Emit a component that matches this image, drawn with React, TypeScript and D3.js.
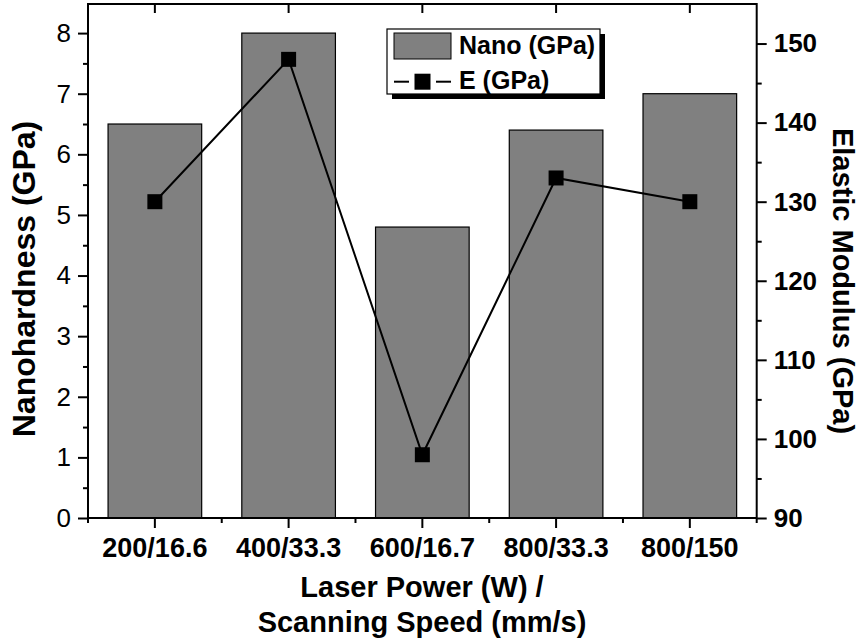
import React, { useEffect, useRef } from 'react';
import * as d3 from 'd3';

// Chart values
const categories = ['200/16.6', '400/33.3', '600/16.7', '800/33.3', '800/150'];
const nanoValues = [6.5, 8.0, 4.8, 6.4, 7.0];
const modulusValues = [130, 148, 98, 133, 130];
const leftTicks = [0, 1, 2, 3, 4, 5, 6, 7, 8];
const leftMinorTicks = [0.5, 1.5, 2.5, 3.5, 4.5, 5.5, 6.5, 7.5];
const rightTicks = [90, 100, 110, 120, 130, 140, 150];
const rightMinorTicks = [95, 105, 115, 125, 135, 145];
const legendLabels = ['Nano (GPa)', 'E (GPa)'];

const FONT = 'Arial, "Liberation Sans", Helvetica, sans-serif';

const App = () => {
  const svgRef = useRef<SVGSVGElement>(null);

  useEffect(() => {
    const svg = d3.select(svgRef.current);
    svg.selectAll('*').remove();

    const left = 88;
    const right = 756.7;
    const top = 4;
    const bottom = 518;

    const x = d3.scaleBand<string>()
      .domain(categories)
      .range([left, right])
      .paddingInner(0.3)
      .paddingOuter(0.15);
    const yL = d3.scaleLinear().domain([0, 8.48]).range([bottom, top]);
    const yR = d3.scaleLinear().domain([90, 155]).range([bottom, top]);

    const center = (c: string) => (x(c) as number) + x.bandwidth() / 2;

    // bars
    svg.append('g')
      .selectAll('rect')
      .data(categories)
      .enter().append('rect')
      .attr('x', d => x(d) as number)
      .attr('y', (d, i) => yL(nanoValues[i]))
      .attr('width', x.bandwidth())
      .attr('height', (d, i) => bottom - yL(nanoValues[i]))
      .attr('fill', '#808080')
      .attr('stroke', '#000')
      .attr('stroke-width', 1.2);

    // line + markers for modulus
    const line = d3.line<number>()
      .x((d, i) => center(categories[i]))
      .y(d => yR(d));
    svg.append('path')
      .datum(modulusValues)
      .attr('d', line)
      .attr('fill', 'none')
      .attr('stroke', '#000')
      .attr('stroke-width', 2);
    const ms = 15;
    svg.append('g')
      .selectAll('rect')
      .data(modulusValues)
      .enter().append('rect')
      .attr('x', (d, i) => center(categories[i]) - ms / 2)
      .attr('y', d => yR(d) - ms / 2)
      .attr('width', ms)
      .attr('height', ms)
      .attr('fill', '#000');

    const styleAxis = (g: any, weight: string, size: number) => {
      g.select('.domain').remove();
      g.selectAll('line').attr('stroke', '#000').attr('stroke-width', 2);
      g.selectAll('text')
        .attr('fill', '#000')
        .style('font-family', FONT)
        .style('font-size', size + 'px')
        .style('font-weight', weight);
    };

    // left axis
    svg.append('g')
      .attr('transform', `translate(${left},0)`)
      .call(d3.axisLeft(yL).tickValues(leftTicks).tickSize(10).tickPadding(7).tickFormat(d3.format('d')))
      .call((g: any) => styleAxis(g, 'normal', 26));
    svg.append('g')
      .attr('transform', `translate(${left},0)`)
      .call(d3.axisLeft(yL).tickValues(leftMinorTicks).tickSize(5).tickFormat(() => ''))
      .call((g: any) => styleAxis(g, 'normal', 26));

    // right axis
    svg.append('g')
      .attr('transform', `translate(${right},0)`)
      .call(d3.axisRight(yR).tickValues(rightTicks).tickSize(10).tickPadding(7))
      .call((g: any) => styleAxis(g, 'bold', 26));
    svg.append('g')
      .attr('transform', `translate(${right},0)`)
      .call(d3.axisRight(yR).tickValues(rightMinorTicks).tickSize(5).tickFormat(() => ''))
      .call((g: any) => styleAxis(g, 'bold', 26));

    // bottom axis
    svg.append('g')
      .attr('transform', `translate(0,${bottom})`)
      .call(d3.axisBottom(x).tickSize(10).tickPadding(10))
      .call((g: any) => styleAxis(g, 'bold', 27));
    // minor ticks at band boundaries
    const edges = [left].concat(categories.map(c => center(c) + x.step() / 2));
    svg.append('g')
      .selectAll('line')
      .data(edges)
      .enter().append('line')
      .attr('x1', d => d).attr('x2', d => d)
      .attr('y1', bottom).attr('y2', bottom + 5)
      .attr('stroke', '#000').attr('stroke-width', 2);

    // top axis ticks (inward)
    svg.append('g')
      .attr('transform', `translate(0,${top})`)
      .call(d3.axisTop(x).tickSize(-9).tickFormat(() => ''))
      .call((g: any) => styleAxis(g, 'bold', 27));

    // frame
    svg.append('rect')
      .attr('x', left).attr('y', top)
      .attr('width', right - left).attr('height', bottom - top)
      .attr('fill', 'none').attr('stroke', '#000').attr('stroke-width', 2);

    // axis titles
    const titleStyle = (t: any, size: number) => t
      .attr('fill', '#000')
      .style('font-family', FONT)
      .style('font-size', size + 'px')
      .style('font-weight', 'bold')
      .attr('text-anchor', 'middle');

    svg.append('text')
      .attr('transform', `translate(35,279) rotate(-90)`)
      .text('Nanohardness (GPa)')
      .call(titleStyle, 32);
    svg.append('text')
      .attr('transform', `translate(833,281) rotate(90)`)
      .text('Elastic Modulus (GPa)')
      .call(titleStyle, 29);
    svg.append('text')
      .attr('x', 422).attr('y', 597)
      .text('Laser Power (W) /')
      .call(titleStyle, 29);
    svg.append('text')
      .attr('x', 422).attr('y', 632)
      .text('Scanning Speed (mm/s)')
      .call(titleStyle, 29);

    // legend
    const lg = svg.append('g');
    lg.append('rect')
      .attr('x', 392).attr('y', 34).attr('width', 213).attr('height', 65)
      .attr('fill', '#000');
    lg.append('rect')
      .attr('x', 387).attr('y', 29).attr('width', 213).attr('height', 65)
      .attr('fill', '#fff').attr('stroke', '#000').attr('stroke-width', 1.2);
    lg.append('rect')
      .attr('x', 394).attr('y', 33).attr('width', 57).attr('height', 26)
      .attr('fill', '#808080').attr('stroke', '#000').attr('stroke-width', 1);
    lg.append('line')
      .attr('x1', 394).attr('x2', 409).attr('y1', 81.7).attr('y2', 81.7)
      .attr('stroke', '#000').attr('stroke-width', 2);
    lg.append('line')
      .attr('x1', 436).attr('x2', 451).attr('y1', 81.7).attr('y2', 81.7)
      .attr('stroke', '#000').attr('stroke-width', 2);
    lg.append('rect')
      .attr('x', 414.5).attr('y', 73.7).attr('width', 16).attr('height', 16)
      .attr('fill', '#000');
    lg.selectAll('text.lbl')
      .data(legendLabels)
      .enter().append('text')
      .attr('class', 'lbl')
      .attr('x', 459)
      .attr('y', (d, i) => (i === 0 ? 54 : 89))
      .attr('fill', '#000')
      .style('font-family', FONT)
      .style('font-size', '25px')
      .style('font-weight', 'bold')
      .text(d => d);
  }, []);

  return (
    <svg
      ref={svgRef}
      width={861}
      height={639}
      style={{ position: 'absolute', left: 0, top: 0, background: '#fff' }}
    />
  );
};

export default App;
